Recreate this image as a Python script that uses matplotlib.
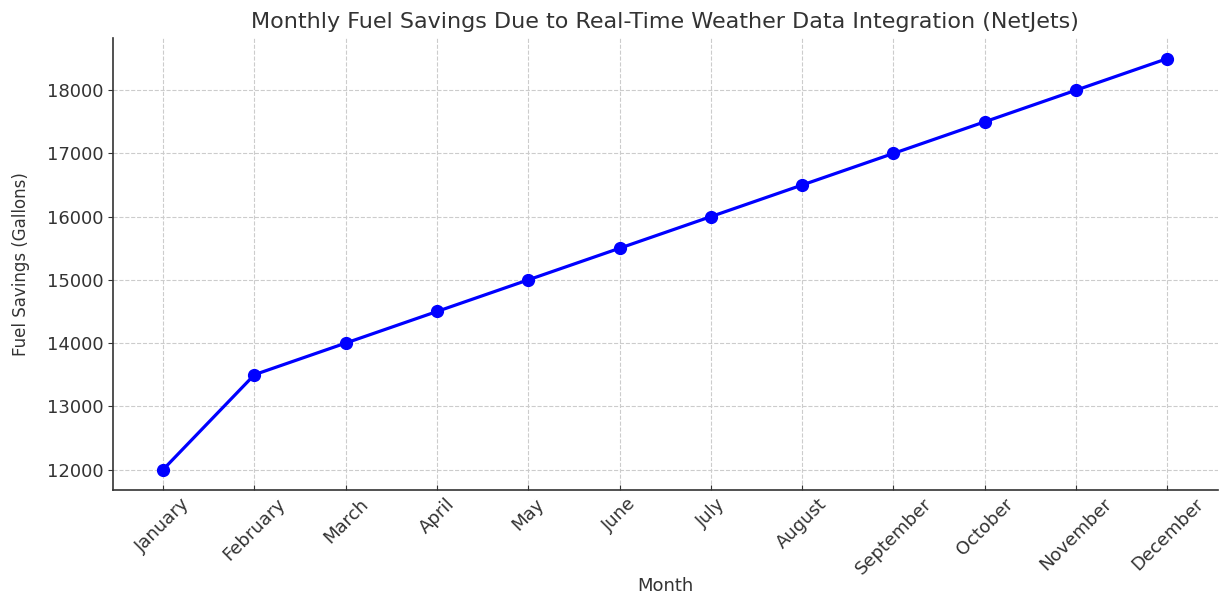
import matplotlib.pyplot as plt

plt.rcParams['font.family'] = ['DejaVu Sans']

# Data
months = ['January', 'February', 'March', 'April', 'May', 'June',
          'July', 'August', 'September', 'October', 'November', 'December']
fuel_savings = [12000, 13500, 14000, 14500, 15000, 15500,
                16000, 16500, 17000, 17500, 18000, 18500]

text_color = '#333333'

fig = plt.figure(figsize=(12.2, 5.94), dpi=100)
ax = fig.add_axes([0.0926, 0.175, 0.9054, 0.761])

ax.plot(months, fuel_savings, marker='o', color='blue', linewidth=2.3, markersize=8.5)

ax.set_title('Monthly Fuel Savings Due to Real-Time Weather Data Integration (NetJets)',
             fontsize=16, color=text_color, pad=7)
ax.set_xlabel('Month', fontsize=13, color=text_color)
ax.set_ylabel('Fuel Savings (Gallons)', fontsize=12, color=text_color)
ax.xaxis.set_label_coords(0.5, -0.192)
ax.yaxis.set_label_coords(-0.075, 0.5)

ax.grid(True, linestyle='--', color='#cccccc', linewidth=0.8)
ax.spines['top'].set_visible(False)
ax.spines['right'].set_visible(False)
ax.spines['left'].set_color('#333333')
ax.spines['bottom'].set_color('#333333')
ax.spines['left'].set_linewidth(1.2)
ax.spines['bottom'].set_linewidth(1.2)

ax.tick_params(axis='x', labelrotation=45, labelsize=13, colors=text_color, direction='in')
ax.tick_params(axis='y', labelsize=13, colors=text_color)

plt.savefig('out.png', dpi=100)
